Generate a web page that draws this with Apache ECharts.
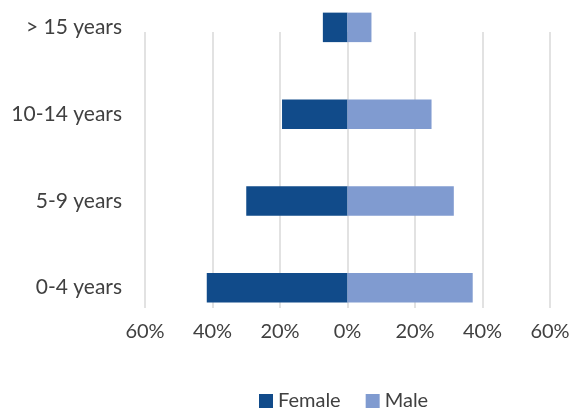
<!DOCTYPE html>
<html>
<head>
<meta charset="utf-8">
<script src="https://cdn.jsdelivr.net/npm/echarts@6/dist/echarts.min.js"></script>
<style>html,body{margin:0;padding:0;background:#fff}#c{width:579px;height:408px}</style>
</head>
<body>
<div id="c"></div>
<script>
var categories = ['0-4 years', '5-9 years', '10-14 years', '> 15 years'];
var femaleValues = [0.417, 0.300, 0.194, 0.073];
var maleValues = [0.371, 0.315, 0.249, 0.071];
var seriesNames = ['Female', 'Male'];
var axisMin = -0.6, axisMax = 0.6, axisStep = 0.2;

var FONT = 'Lato';
var TXT = '#404040';
var chart = echarts.init(document.getElementById('c'));
chart.setOption({
  animation: false,
  textStyle: { fontFamily: FONT },
  grid: [
    { left: 145, right: 29, top: 32, bottom: 100, outerBoundsMode: 'none' },
    { left: 145, right: 29, top: -16, bottom: 77, outerBoundsMode: 'none' }
  ],
  xAxis: [
    { gridIndex: 0, type: 'value', min: axisMin, max: axisMax, interval: axisStep,
      axisLine: { show: false }, axisTick: { show: false },
      splitLine: { show: true, lineStyle: { color: '#d9d9d9', width: 1.5 } },
      axisLabel: { fontSize: 20, color: TXT, margin: 14, fontFamily: FONT,
        formatter: function (v) { return Math.round(Math.abs(v) * 100) + '%'; } } },
    { gridIndex: 1, type: 'value', min: axisMin, max: axisMax, interval: axisStep, show: false,
      splitLine: { show: false } }
  ],
  yAxis: [
    { gridIndex: 0, type: 'value', min: 0, max: 1, show: false, splitLine: { show: false } },
    { gridIndex: 1, type: 'category', data: categories,
      axisLine: { show: false }, axisTick: { show: false },
      axisLabel: { fontSize: 21, color: TXT, margin: 23, fontFamily: FONT } }
  ],
  legend: {
    left: 254, top: 386, icon: 'rect', itemWidth: 14, itemHeight: 14, itemGap: 25,
    textStyle: { fontSize: 20, color: TXT, fontFamily: FONT },
    data: seriesNames
  },
  series: [
    { name: seriesNames[0], type: 'bar', xAxisIndex: 1, yAxisIndex: 1, stack: 'p', barWidth: 29.5,
      itemStyle: { color: '#114B8A' },
      data: femaleValues.map(function (v) { return -v; }) },
    { name: seriesNames[1], type: 'bar', xAxisIndex: 1, yAxisIndex: 1, stack: 'p', barWidth: 29.5,
      itemStyle: { color: '#809BD0' },
      data: maleValues }
  ]
});
</script>
</body>
</html>
